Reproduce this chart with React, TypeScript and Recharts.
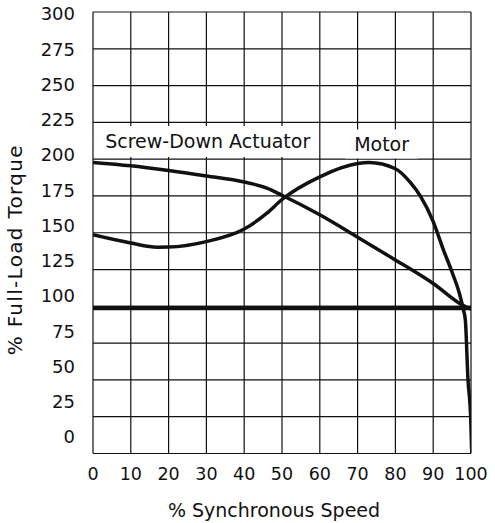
import React from 'react';
import { LineChart, Line, XAxis, YAxis, CartesianGrid, ReferenceArea } from 'recharts';

// values (torque in % full-load, speed in % synchronous)
const actuatorSpeed = [0, 10, 20, 30, 40, 46, 50, 60, 70, 80, 90, 97.6, 100];
const actuatorTorque = [197.8, 195.5, 192.3, 188.6, 184.5, 180.3, 175.5, 162.2, 147, 131.5, 115.5, 101, 98];

const motorSpeed = [0, 10, 17, 20, 30, 40, 46, 50, 60, 70, 73, 80, 84, 86.7, 90, 92.7, 95.1, 96.9, 97.9, 98.5, 99.2, 99.9, 100.2];
const motorTorque = [148.6, 143, 140.2, 140.3, 144, 152.5, 163.3, 172.6, 188, 197, 197.7, 193.5, 184, 174.5, 157.6, 138.4, 122.5, 109, 98.7, 90.8, 50.3, 25, 0];

const loadSpeed = [0, 100];
const loadTorque = [98.8, 98.8];

const speedTicks = [0, 10, 20, 30, 40, 50, 60, 70, 80, 90, 100];
const torqueTicks = [0, 25, 50, 75, 100, 125, 150, 175, 200, 225, 250, 275, 300];

const toPoints = (xs: number[], ys: number[]) => xs.map((speed, i) => ({ speed, torque: ys[i] }));

const actuatorData = toPoints(actuatorSpeed, actuatorTorque);
const motorData = toPoints(motorSpeed, motorTorque);
const loadData = toPoints(loadSpeed, loadTorque);

const ink = '#111';
const font = 'DejaVu Sans';

// the printed torque numbers drift upward from the grid lines toward the bottom
const TorqueTick = (props: any) => {
    const { x, y, payload } = props;
    const shift = (11.2 - 0.0413 * payload.value) * 1.4717;
    return (
        <text x={x} y={y - shift} dy="0.36em" textAnchor="end" fontSize={18} fill={ink} fontFamily={font}>
            {payload.value}
        </text>
    );
};

export default function App() {
    return (
        <div style={{ position: 'absolute', left: 0, top: 0, background: '#fff' }}>
            <LineChart
                width={495}
                height={523}
                margin={{ top: 12, right: 24, bottom: 0, left: 0 }}
                style={{ fontFamily: font }}
            >
                <CartesianGrid stroke={ink} strokeWidth={1.2} />
                <XAxis
                    type="number"
                    dataKey="speed"
                    domain={[0, 100]}
                    ticks={speedTicks}
                    allowDataOverflow
                    axisLine={false}
                    tickLine={false}
                    tickSize={0}
                    tickMargin={14}
                    height={69.5}
                    tick={{ fontSize: 17.5, fill: ink }}
                    label={{ value: '% Synchronous Speed', position: 'insideBottom', offset: 6, dx: -8, fontSize: 19, fill: ink }}
                />
                <YAxis
                    type="number"
                    domain={[0, 300]}
                    ticks={torqueTicks}
                    allowDataOverflow
                    width={93}
                    axisLine={false}
                    tickLine={false}
                    tickSize={0}
                    tickMargin={18}
                    tick={<TorqueTick />}
                    label={{ value: '% Full-Load Torque', angle: -90, position: 'insideLeft', offset: 15, dy: 17, fontSize: 20, letterSpacing: 1.3, fill: ink, style: { textAnchor: 'middle' } }}
                />
                <ReferenceArea
                    x1={1.2}
                    x2={59.5}
                    y1={201.5}
                    y2={222.6}
                    fill="#fff"
                    fillOpacity={1}
                    stroke="none"
                    label={{ value: 'Screw-Down Actuator', position: 'center', fontSize: 19, fill: ink }}
                />
                <ReferenceArea
                    x1={66.7}
                    x2={86}
                    y1={200.5}
                    y2={220.2}
                    fill="#fff"
                    fillOpacity={1}
                    stroke="none"
                    label={{ value: 'Motor', position: 'center', fontSize: 19, fill: ink }}
                />
                <Line data={loadData} dataKey="torque" type="linear" stroke={ink} strokeWidth={4.5} dot={false} activeDot={false} isAnimationActive={false} />
                <Line data={actuatorData} dataKey="torque" type="monotone" stroke={ink} strokeWidth={3.5} dot={false} activeDot={false} isAnimationActive={false} />
                <Line data={motorData} dataKey="torque" type="monotone" stroke={ink} strokeWidth={3.5} dot={false} activeDot={false} isAnimationActive={false} />
            </LineChart>
        </div>
    );
}
